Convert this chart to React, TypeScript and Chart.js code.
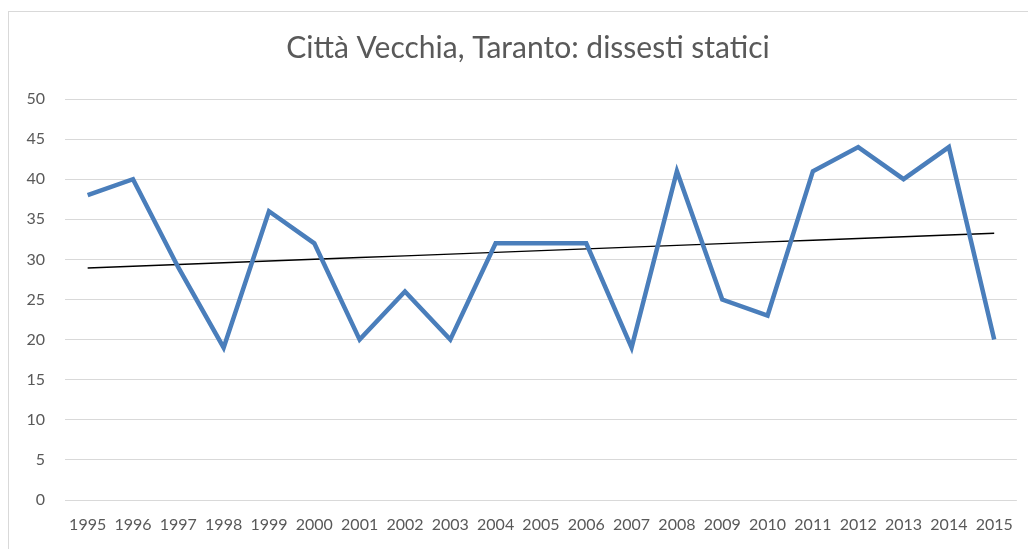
import React, { useEffect, useRef } from "react";
import { Chart, registerables } from "chart.js";

Chart.register(...registerables);

const TITLE = "Città Vecchia, Taranto: dissesti statici";
const YEARS = ["1995","1996","1997","1998","1999","2000","2001","2002","2003","2004","2005","2006","2007","2008","2009","2010","2011","2012","2013","2014","2015"];
const DISSESTI = [38, 40, 29, 19, 36, 32, 20, 26, 20, 32, 32, 32, 19, 41, 25, 23, 41, 44, 40, 44, 20];

function linearTrend(values: number[]): number[] {
  const n = values.length;
  let sx = 0, sy = 0, sxy = 0, sxx = 0;
  values.forEach((v, i) => { sx += i; sy += v; sxy += i * v; sxx += i * i; });
  const b = (n * sxy - sx * sy) / (n * sxx - sx * sx);
  const a = (sy - b * sx) / n;
  return values.map((_, i) => a + b * i);
}

const FONT = "Lato, 'Open Sans', sans-serif";
const GREY = "#595959";

const framePlugin = {
  id: "frame",
  beforeDraw(chart: any) {
    const ctx = chart.ctx;
    ctx.save();
    ctx.fillStyle = "#ffffff";
    ctx.fillRect(0, 0, chart.width, chart.height);
    ctx.strokeStyle = "#d9d9d9";
    ctx.lineWidth = 1;
    ctx.strokeRect(8.5, 11.5, chart.width + 10, chart.height + 10);
    ctx.restore();
  },
  afterDraw(chart: any) {
    const ctx = chart.ctx;
    ctx.save();
    ctx.fillStyle = GREY;
    ctx.font = `normal 30px ${FONT}`;
    ctx.textAlign = "center";
    ctx.textBaseline = "middle";
    ctx.fillText(TITLE, 528, 48);
    ctx.restore();
  },
};

export default function App() {
  const ref = useRef<HTMLCanvasElement | null>(null);
  useEffect(() => {
    if (!ref.current) return;
    const chart = new Chart(ref.current, {
      type: "line",
      data: {
        labels: YEARS,
        datasets: [
          {
            label: "dissesti",
            data: DISSESTI,
            borderColor: "#4a7ebb",
            borderWidth: 4.5,
            pointRadius: 0,
            tension: 0,
            borderJoinStyle: "miter",
          },
          {
            label: "trend",
            data: linearTrend(DISSESTI),
            borderColor: "#000000",
            borderWidth: 1.4,
            pointRadius: 0,
            tension: 0,
          },
        ],
      },
      options: {
        animation: false,
        responsive: false,
        layout: { padding: { left: 0, right: 10, top: 99, bottom: 0 } },
        plugins: {
          legend: { display: false },
          tooltip: { enabled: false },
          title: { display: false },
        },
        scales: {
          x: {
            offset: true,
            grid: { display: false, drawTicks: false },
            border: { display: false },
            ticks: {
              color: GREY,
              font: { family: FONT, size: 16 },
              maxRotation: 0,
              minRotation: 0,
              autoSkip: false,
              padding: 15,
            },
            afterFit(scale: any) { scale.height = 49; },
          },
          y: {
            min: 0,
            max: 50,
            grid: { color: "#d9d9d9", lineWidth: 1, drawTicks: false },
            border: { display: false },
            ticks: {
              stepSize: 5,
              color: GREY,
              font: { family: FONT, size: 16 },
              padding: 20,
            },
            afterFit(scale: any) { scale.width = 65; },
          },
        },
      },
      plugins: [framePlugin],
    } as any);
    return () => chart.destroy();
  }, []);
  return (
    <div style={{ position: "fixed", left: 0, top: 0, width: 1028, height: 549, background: "#fff" }}>
      <canvas ref={ref} width={1028} height={549} style={{ display: "block" }} />
    </div>
  );
}
